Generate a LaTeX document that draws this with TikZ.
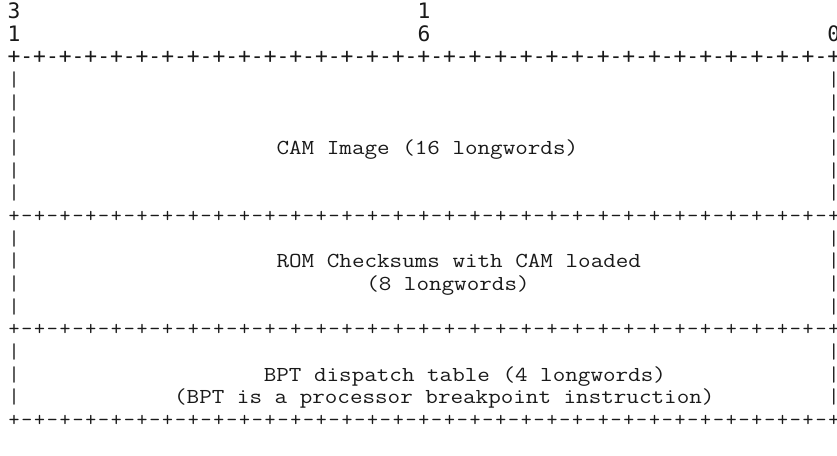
\documentclass[tikz,border=0pt]{standalone}
\usepackage{fontspec}
\setmainfont{Liberation Serif}
\newfontfamily\topmono{DejaVu Sans Mono}
\def\colx#1{(7.6+(#1)*12.81)}
\def\rowy#1{(18.4+(#1)*22.67)}
\newcommand\cl[1]{\makebox[9.6075pt][c]{#1}}
\def\sepq{\cl{+}\cl{-}\cl{+}\cl{-}\cl{+}\cl{-}\cl{+}\cl{-}}
\def\sepline{\sepq\sepq\sepq\sepq\sepq\sepq\sepq\sepq\cl{+}}
\newcommand\sxtext[1]{\scalebox{1.1437}[1]{#1}}
\tikzset{
  asc/.style={inner sep=0pt, outer sep=0pt, anchor=base west,
              font=\ttfamily\fontsize{16}{16}\selectfont, text=black!90},
  asctop/.style={inner sep=0pt, outer sep=0pt, anchor=base west,
              font=\topmono\fontsize{15.95}{16}\selectfont, text=black!90},
}
\begin{document}
\begin{tikzpicture}[x=0.75pt,y=-0.75pt]
\useasboundingbox (0,0) rectangle (837,455);
% bit numbers
\node[asctop] (b31a) at ({\colx{0}},{\rowy{0}}) {\cl{3}};
\node[asctop] (b16a) at ({\colx{32}},{\rowy{0}}) {\cl{1}};
\node[asctop] (b31b) at ({\colx{0}},{\rowy{1}}) {\cl{1}};
\node[asctop] (b16b) at ({\colx{32}},{\rowy{1}}) {\cl{6}};
\node[asctop] (b0)   at ({\colx{64}},{\rowy{1}}) {\cl{0}};
% separators
\node[asctop] (sep0) at ({\colx{0}},{\rowy{2}}) {\sepline};
\node[asc] (sep1) at ({\colx{0}},{\rowy{9}}) {\sepline};
\node[asc] (sep2) at ({\colx{0}},{\rowy{14}}) {\sepline};
\node[asc] (sep3) at ({\colx{0}},{\rowy{18}}) {\sepline};
% side bars
\foreach \r in {3,4,5,6,7,8,10,11,12,13,15,16,17}{
  \node[asc] (left\r)  at ({\colx{0}},{\rowy{\r}}) {\cl{|}};
  \node[asc] (right\r) at ({\colx{64}},{\rowy{\r}}) {\cl{|}};
}
% field texts
\node[asc] (cam)  at ({\colx{21}},{\rowy{6}})  {\sxtext{CAM Image (16 longwords)}};
\node[asc] (rom)  at ({\colx{21}},{\rowy{11}}) {\sxtext{ROM Checksums with CAM loaded}};
\node[asc] (rom2) at ({\colx{28}},{\rowy{12}}) {\sxtext{(8 longwords)}};
\node[asc] (bpt)  at ({\colx{20}},{\rowy{16}}) {\sxtext{BPT dispatch table (4 longwords)}};
\node[asc] (bpt2) at ({\colx{13}},{\rowy{17}}) {\sxtext{(BPT is a processor breakpoint instruction)}};
\end{tikzpicture}
\end{document}
